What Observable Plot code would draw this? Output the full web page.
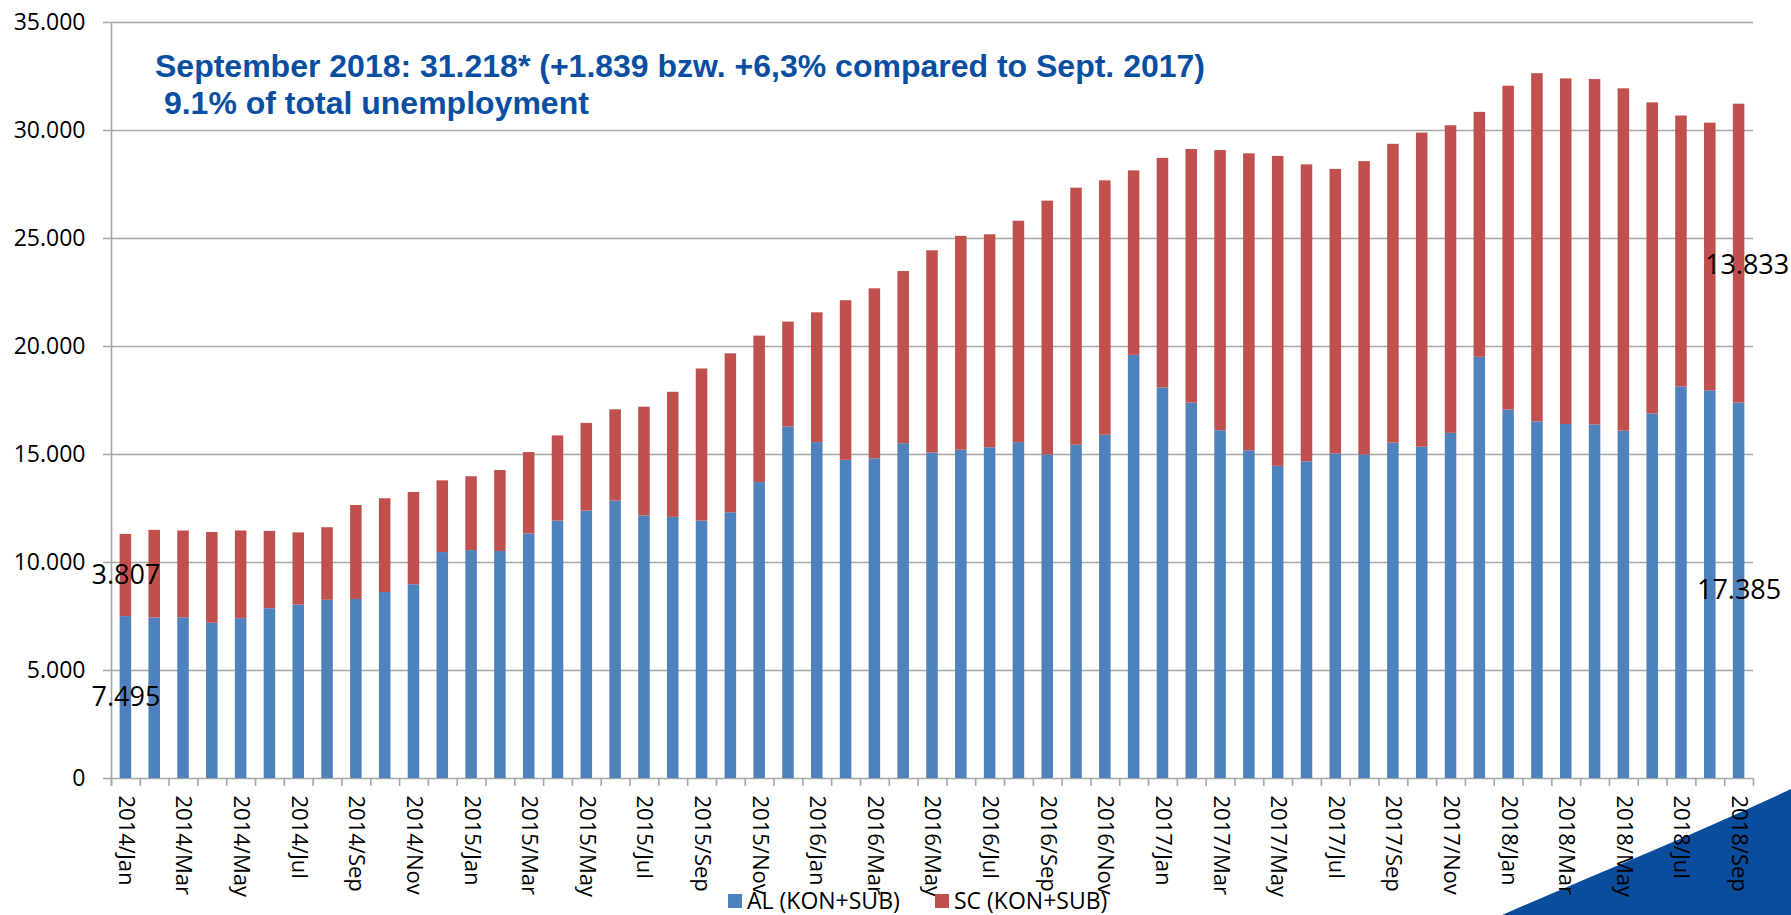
<!DOCTYPE html>
<html>
<head>
<meta charset="utf-8">
<script src="https://cdn.jsdelivr.net/npm/d3@7"></script>
<script src="https://cdn.jsdelivr.net/npm/@observablehq/plot@0.6"></script>
<style>
  html, body { margin: 0; padding: 0; background: #ffffff; }
  #wrap { position: relative; width: 1791px; height: 915px; overflow: hidden; }
  #deco { position: absolute; left: 0; top: 0; z-index: 0; }
  #chart { position: absolute; left: 0; top: 0; z-index: 1; }
  #title { position: absolute; left: 155px; top: 48px; z-index: 2; white-space: pre;
           font-family: "Liberation Sans", Arial, sans-serif; font-weight: bold; font-size: 32px;
           line-height: 37px; color: #0a4ea2; }
  .leg { position: absolute; z-index: 2; font-family: "Open Sans", sans-serif; font-size: 23px;
         line-height: 23px; color: #000; white-space: pre; }
  .sw { position: absolute; z-index: 2; width: 14px; height: 14px; }
</style>
</head>
<body>
<div id="wrap">
  <svg id="deco" width="1791" height="915"><path d="M1502,915 C1600,872 1700,832 1791,789 L1791,915 Z" fill="#0a4d9c"/></svg>
  <div id="chart"></div>
  <div id="title"></div>
  <div id="legend"></div>
</div>
<script>
// ---- data ----
const months = [
  "2014/Jan","2014/Feb","2014/Mar","2014/Apr","2014/May","2014/Jun","2014/Jul","2014/Aug","2014/Sep","2014/Oct","2014/Nov","2014/Dec",
  "2015/Jan","2015/Feb","2015/Mar","2015/Apr","2015/May","2015/Jun","2015/Jul","2015/Aug","2015/Sep","2015/Oct","2015/Nov","2015/Dec",
  "2016/Jan","2016/Feb","2016/Mar","2016/Apr","2016/May","2016/Jun","2016/Jul","2016/Aug","2016/Sep","2016/Oct","2016/Nov","2016/Dec",
  "2017/Jan","2017/Feb","2017/Mar","2017/Apr","2017/May","2017/Jun","2017/Jul","2017/Aug","2017/Sep","2017/Oct","2017/Nov","2017/Dec",
  "2018/Jan","2018/Feb","2018/Mar","2018/Apr","2018/May","2018/Jun","2018/Jul","2018/Aug","2018/Sep"
];
const alValues = [
  7495, 7430, 7440, 7190, 7400, 7860, 8030, 8250, 8290, 8610, 8970, 10460,
  10550, 10510, 11320, 11920, 12380, 12840, 12160, 12090, 11920, 12300, 13700, 16270,
  15550, 14730, 14800, 15500, 15070, 15200, 15310, 15550, 14980, 15430, 15890, 19590,
  18080, 17380, 16100, 15170, 14450, 14660, 15030, 14980, 15530, 15340, 15980, 19500,
  17060, 16510, 16390, 16370, 16080, 16880, 18130, 17950, 17385
];
const scValues = [
  3807, 4060, 4020, 4200, 4060, 3580, 3340, 3360, 4350, 4340, 4270, 3320,
  3420, 3750, 3770, 3940, 4060, 4230, 5030, 5790, 7040, 7360, 6780, 4860,
  6010, 7390, 7870, 7970, 9360, 9900, 9860, 10250, 11750, 11900, 11780, 8540,
  10630, 11740, 12970, 13750, 14350, 13750, 13170, 13580, 13830, 14540, 14240, 11340,
  14990, 16120, 16000, 15990, 15850, 14400, 12540, 12390, 13833
];
const seriesNames = ["AL (KON+SUB)", "SC (KON+SUB)"];
const seriesColors = ["#4f81bd", "#c0504d"];
const yTicks = [0, 5000, 10000, 15000, 20000, 25000, 30000, 35000];
const titleLines = [
  "September 2018: 31.218* (+1.839 bzw. +6,3% compared to Sept. 2017)",
  " 9.1% of total unemployment"
];

// ---- build ----
const rows = months.flatMap((m, i) => [
  {month: m, series: seriesNames[0], value: alValues[i]},
  {month: m, series: seriesNames[1], value: scValues[i]}
]);
const first = months[0], last = months[months.length - 1];
const deFmt = d3.formatLocale({decimal: ",", thousands: ".", grouping: [3], currency: ["", ""]}).format(",d");

const W = 1791, H = 915, mL = 111, mR = 38, mT = 22, mB = 137;
const step = (W - mL - mR) / months.length;
const gray = "#a6a6a6";
const font = "'Open Sans', sans-serif";

const plot = Plot.plot({
  width: W, height: H,
  marginLeft: mL, marginRight: mR, marginTop: mT, marginBottom: mB,
  style: {background: "transparent", fontFamily: font, fontSize: "22px", color: "#000", overflow: "visible"},
  x: {domain: months, paddingInner: 0.6, paddingOuter: 0.3, label: null,
      tickSize: 0, tickPadding: 17, tickRotate: 90,
      tickFormat: d => (months.indexOf(d) % 2 === 0 ? d : "")},
  y: {domain: [0, 35000], axis: null, label: null},
  color: {domain: seriesNames, range: seriesColors},
  marks: [
    Plot.ruleY(yTicks, {stroke: gray, strokeWidth: 1.6, insetLeft: -8}),
    Plot.text(yTicks, {y: d => d, text: d => deFmt(d), frameAnchor: "left", textAnchor: "end", dx: -26,
      fill: "#000", fontSize: 23, fontFamily: font}),
    Plot.ruleX([first], {x: d => d, dx: -step / 2, stroke: gray, strokeWidth: 1.6, insetBottom: -8}),
    Plot.ruleX(months, {x: d => d, y1: 0, y2: 0, dx: -step / 2, insetBottom: -8, stroke: gray, strokeWidth: 1.6}),
    Plot.ruleX([last], {x: d => d, y1: 0, y2: 0, dx: step / 2, insetBottom: -8, stroke: gray, strokeWidth: 1.6}),
    Plot.barY(rows, {x: "month", y: "value", fill: "series"}),
    Plot.text(rows.filter(d => d.month === first), Plot.stackY({x: "month", y: "value", z: "series",
      text: d => deFmt(d.value), fill: "#000", fontSize: 27, fontFamily: font})),
    Plot.text(rows.filter(d => d.month === last), Plot.stackY({x: "month", y: "value", z: "series",
      text: d => (d.series === seriesNames[0] ? deFmt(d.value) : ""), fill: "#000", fontSize: 27, fontFamily: font})),
    Plot.text(rows.filter(d => d.month === last), Plot.stackY({x: "month", y: "value", z: "series",
      text: d => (d.series === seriesNames[1] ? deFmt(d.value) : ""), dx: 8, dy: 12, fill: "#000", fontSize: 27, fontFamily: font}))
  ]
});
document.getElementById("chart").appendChild(plot);

document.getElementById("title").textContent = titleLines.join("\n");

// legend (below plot area)
const leg = document.getElementById("legend");
const legPos = [728, 935];
seriesNames.forEach((name, i) => {
  const sw = document.createElement("div");
  sw.className = "sw";
  sw.style.left = legPos[i] + "px";
  sw.style.top = "894px";
  sw.style.background = seriesColors[i];
  leg.appendChild(sw);
  const tx = document.createElement("div");
  tx.className = "leg";
  tx.style.left = (legPos[i] + 19) + "px";
  tx.style.top = "889px";
  tx.textContent = name;
  leg.appendChild(tx);
});
</script>
</body>
</html>
